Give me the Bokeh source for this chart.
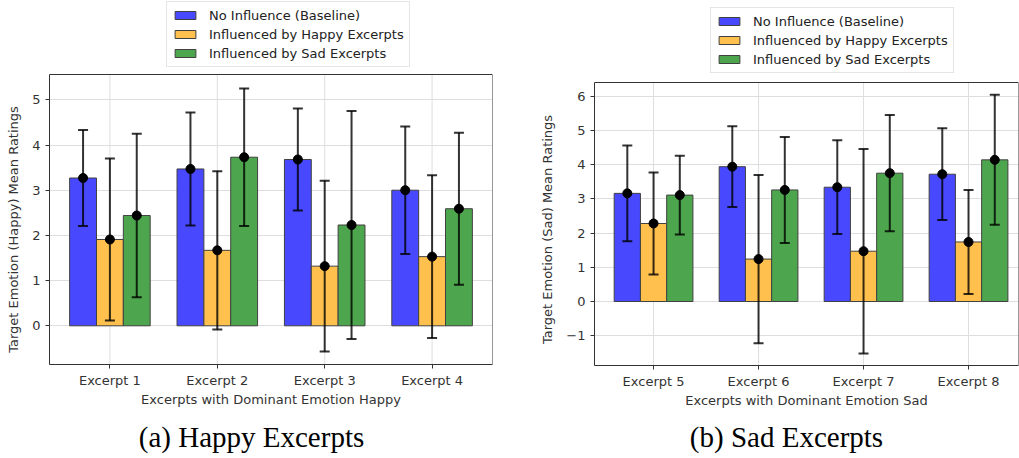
from bokeh.plotting import figure
from bokeh.models import (ColumnDataSource, Range1d, FixedTicker, Legend,
                          LegendItem, Label, BoxAnnotation)
from bokeh.layouts import row
from bokeh.transform import dodge
from bokeh.embed import file_html
from bokeh.resources import INLINE

# ---------------- data ----------------
series_names = ["No Influence (Baseline)", "Influenced by Happy Excerpts",
                "Influenced by Sad Excerpts"]

happy_excerpts = ["Excerpt 1", "Excerpt 2", "Excerpt 3", "Excerpt 4"]
happy_baseline_mean = [3.27, 3.47, 3.68, 3.00]
happy_baseline_std = [1.06, 1.25, 1.13, 1.41]
happy_happy_mean = [1.91, 1.67, 1.32, 1.53]
happy_happy_std = [1.79, 1.75, 1.89, 1.80]
happy_sad_mean = [2.44, 3.73, 2.23, 2.59]
happy_sad_std = [1.81, 1.52, 2.52, 1.68]

sad_excerpts = ["Excerpt 5", "Excerpt 6", "Excerpt 7", "Excerpt 8"]
sad_baseline_mean = [3.16, 3.94, 3.34, 3.72]
sad_baseline_std = [1.40, 1.18, 1.37, 1.34]
sad_happy_mean = [2.28, 1.24, 1.47, 1.74]
sad_happy_std = [1.49, 2.46, 2.99, 1.52]
sad_sad_mean = [3.11, 3.26, 3.75, 4.14]
sad_sad_std = [1.15, 1.55, 1.70, 1.90]

happy_yticks = [0, 1, 2, 3, 4, 5]
sad_yticks = [-1, 0, 1, 2, 3, 4, 5, 6]

# ---------------- styles ----------------
COLORS = ["#4848ff", "#ffc04d", "#4da64d"]
OFFSETS = [-0.25, 0.0, 0.25]
BAR_W = 0.25
AX = "#333333"
GRID = "#dedede"
FONT = "DejaVu Sans"
H = 458


def make_panel(cats, means, stds, y_data, x_end, yticks, ylabel, xlabel,
               caption, width, bl, br, box_top, box_bottom, legend_loc,
               caption_pos):
    y0, y1 = y_data
    # frame spans the whole height; the data box sits at box_top..box_bottom px
    ppu = (box_bottom - box_top) / (y1 - y0)
    y_end = y1 + box_top / ppu
    y_start = y0 - (H - box_bottom) / ppu
    x0 = -0.5625

    p = figure(width=width, height=H, output_backend="svg",
               toolbar_location=None,
               x_range=Range1d(x0, x_end), y_range=Range1d(y_start, y_end),
               min_border_left=bl, min_border_right=br,
               min_border_top=0, min_border_bottom=0)
    p.background_fill_color = "white"
    p.border_fill_color = "white"
    p.outline_line_color = None

    idx = list(range(len(cats)))

    # vertical grid lines limited to the data box
    p.xgrid.visible = False
    p.segment(x0=idx, y0=[y0] * len(idx), x1=idx, y1=[y1] * len(idx),
              line_color=GRID, line_width=1, level="underlay")
    p.ygrid.ticker = FixedTicker(ticks=yticks)
    p.ygrid.grid_line_color = GRID
    p.ygrid.grid_line_width = 1

    items = []
    for k in range(3):
        m = means[k]
        s = stds[k]
        src = ColumnDataSource(dict(
            x=idx, mean=m,
            lo=[a - b for a, b in zip(m, s)],
            hi=[a + b for a, b in zip(m, s)]))
        xs = dodge("x", OFFSETS[k])
        r = p.vbar(x=xs, top="mean", bottom=0, width=BAR_W, source=src,
                   fill_color=COLORS[k], line_color="#404040", line_width=1)
        items.append(LegendItem(label=series_names[k], renderers=[r]))
        p.segment(x0=xs, y0="lo", x1=xs, y1="hi", source=src,
                  line_color="black", line_alpha=0.8, line_width=2)
        p.scatter(x=xs, y="lo", marker="dash", size=10, source=src,
                  line_color="black", line_alpha=0.8, line_width=2)
        p.scatter(x=xs, y="hi", marker="dash", size=10, source=src,
                  line_color="black", line_alpha=0.8, line_width=2)
        p.scatter(x=xs, y="mean", marker="circle", size=9, source=src,
                  fill_color="black", line_color="black")

    # frame of the data box
    p.add_layout(BoxAnnotation(left=x0, right=x_end, bottom=y0, top=y1,
                               fill_alpha=0, line_color=AX, line_width=1,
                               line_alpha=1))

    # axes
    p.xaxis.fixed_location = y0
    p.xaxis.ticker = FixedTicker(ticks=idx)
    p.xaxis.major_label_overrides = {i: c for i, c in zip(idx, cats)}
    p.yaxis.ticker = FixedTicker(ticks=yticks)
    p.yaxis.bounds = (y0, y1)
    p.yaxis.major_label_overrides = {t: (("\u2212" + str(-t)) if t < 0 else str(t))
                                     for t in yticks}
    for ax in (p.xaxis, p.yaxis):
        ax.axis_line_color = AX
        ax.major_tick_line_color = AX
        ax.major_tick_out = 4
        ax.major_tick_in = 0
        ax.minor_tick_line_color = None
        ax.major_label_text_font = FONT
        ax.major_label_text_font_size = "13px"
        ax.major_label_text_color = "#333333"
        ax.axis_label_text_font = FONT
        ax.axis_label_text_font_size = "13px"
        ax.axis_label_text_font_style = "normal"
        ax.axis_label_text_color = "#333333"
    p.xaxis.major_label_standoff = 4
    p.yaxis.major_label_standoff = 5
    p.xaxis.axis_label_standoff = 1
    p.yaxis.axis_label_standoff = 8
    p.xaxis.axis_label = xlabel
    p.yaxis.axis_label = ylabel

    leg = Legend(items=items, location=legend_loc, orientation="vertical",
                 glyph_width=26, glyph_height=10, label_height=16,
                 label_standoff=11, spacing=3, padding=5, margin=0,
                 label_text_font=FONT, label_text_font_size="13px",
                 label_text_color="#222222", border_line_color="#cccccc",
                 border_line_width=1, background_fill_color="white",
                 background_fill_alpha=1.0)
    p.add_layout(leg, "center")

    p.add_layout(Label(x=caption_pos[0], y=caption_pos[1], x_units="screen",
                       y_units="screen", text=caption, text_align="center",
                       text_baseline="alphabetic", text_font="Liberation Serif",
                       text_font_size="29px", text_color="black"))
    return p


p1 = make_panel(happy_excerpts,
                [happy_baseline_mean, happy_happy_mean, happy_sad_mean],
                [happy_baseline_std, happy_happy_std, happy_sad_std],
                (-0.856, 5.56), 3.5625, happy_yticks,
                "Target Emotion (Happy) Mean Ratings",
                "Excerpts with Dominant Emotion Happy",
                "(a) Happy Excerpts", 510, 49, 18, 74, 364,
                (117, H - 67), (202, H - 436))

p2 = make_panel(sad_excerpts,
                [sad_baseline_mean, sad_happy_mean, sad_sad_mean],
                [sad_baseline_std, sad_happy_std, sad_sad_std],
                (-1.87, 6.40), 3.476, sad_yticks,
                "Target Emotion (Sad) Mean Ratings",
                "Excerpts with Dominant Emotion Sad",
                "(b) Sad Excerpts", 509, 84, 1, 82, 365,
                (116, H - 73), (192, H - 436))

layout = row(p1, p2)
open("out.html", "w").write(file_html(layout, INLINE))
